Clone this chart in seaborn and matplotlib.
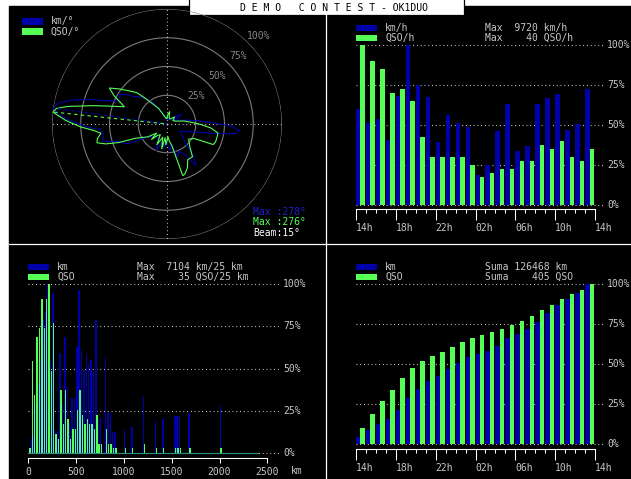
import numpy as np
import pandas as pd
import matplotlib
matplotlib.use("Agg")
import matplotlib.pyplot as plt
import matplotlib.transforms as mtransforms
from matplotlib.patches import Rectangle
import seaborn as sns

W, H = 631, 479
BLUE = "#0000AA"
GREEN = "#55FF55"
TXT = "#C8C8C8"
RING = "#7A7A7A"

#### data ####
hours = ["14h", "15h", "16h", "17h", "18h", "19h", "20h", "21h", "22h", "23h", "00h", "01h",
         "02h", "03h", "04h", "05h", "06h", "07h", "08h", "09h", "10h", "11h", "12h", "13h"]
km_hour = [5820, 4970, 5200, 3940, 6620, 9720, 7280, 6530, 3810, 5430, 4970, 4720,
           1810, 2390, 4480, 6120, 3270, 3560, 6120, 6490, 6740, 4550, 4888, 7040]
qso_hour = [40, 36, 34, 28, 29, 26, 17, 12, 12, 12, 12, 10,
            7, 8, 9, 9, 11, 11, 15, 14, 16, 12, 11, 14]

# distance histogram, 25 km bins (only non empty bins)
dist_from = [0, 25, 50, 75, 100, 125, 150, 175, 200, 225, 250, 275, 300, 325, 350,
             375, 400, 425, 450, 475, 500, 525, 550, 575, 600, 625, 650, 675, 700, 725,
             750, 800, 825, 850, 875, 900, 1000, 1075, 1200, 1325, 1400, 1525, 1550, 1575,
             1675, 2000]
km_dist = [20, 590, 750, 2060, 2910, 3900, 5600, 5980, 7104, 3870, 6710, 995, 925, 4190, 2100,
           4900, 2770, 1280, 2310, 2380, 4475, 6855, 4360, 3480, 4170, 3765, 3910, 3410, 5610, 1490,
           1490, 4030, 1705, 1705, 880, 880, 995, 1115, 2415, 1370, 1420, 1560, 1560, 1560,
           1705, 2025]
qso_dist = [1, 19, 12, 24, 26, 32, 26, 32, 35, 17, 27, 4, 3, 13, 6,
            13, 7, 3, 5, 5, 9, 13, 8, 6, 7, 6, 6, 5, 8, 2,
            2, 5, 2, 2, 1, 1, 1, 1, 2, 1, 1, 1, 1, 1,
            1, 1]

# azimuth diagram, % of max
az_km = [0, 10, 25, 40, 50, 56, 62, 70, 78, 84, 89, 92, 95, 98, 101, 104, 110, 118, 126, 135,
         140, 145, 150, 156, 162, 168, 174, 180, 188, 196, 202, 210, 220, 228, 237, 243, 250,
         255, 260, 265, 268, 272, 275, 278, 281, 284, 287, 290, 294, 298, 302, 306, 311, 316,
         321, 326, 332, 340, 350]
r_km = [4, 5, 4, 6, 10, 15, 7, 10, 16, 27, 42, 56, 63, 60, 43, 30, 20, 13, 16, 22,
        35, 44, 30, 26, 30, 18, 24, 16, 20, 16, 25, 15, 14, 16, 21, 38, 45,
        58, 56, 58, 70, 84, 95, 100, 96, 86, 73, 60, 49, 47, 49, 43, 36, 33,
        27, 23, 15, 8, 5]
az_qso = [0, 5, 12, 18, 30, 47, 60, 72, 80, 85, 90, 95, 100, 105, 110, 114, 118, 125, 135,
          142, 150, 155, 160, 163, 167, 172, 176, 183, 188, 192, 198, 206, 212, 220, 225, 229,
          236, 242, 246, 249, 252, 255, 258, 262, 265, 268, 272, 276, 278, 280, 284, 288, 292,
          295, 298, 302, 306, 311, 316, 320, 326, 332, 338, 345, 352]
r_qso = [5, 8, 11, 6, 5, 9, 6, 8, 15, 20, 28, 38, 45, 45, 45, 44, 27, 23, 28,
         36, 36, 42, 46, 47, 20, 15, 11, 18, 12, 22, 12, 20, 11, 13, 19, 12,
         20, 25, 31, 45, 56, 63, 62, 58, 64, 75, 88, 100, 97, 88, 66, 50, 40,
         45, 52, 59, 52, 44, 38, 29, 20, 15, 9, 6, 5]
beam = 15

sns.set_theme(style="dark")
plt.rcParams["font.family"] = ["DejaVu Sans Mono"]
plt.rcParams["font.size"] = 7

fig = plt.figure(figsize=(W / 100, H / 100), dpi=100, facecolor="white")


def px_box(x0, y0, x1, y1):
    return [x0 / W, 1 - y1 / H, (x1 - x0) / W, (y1 - y0) / H]


# background, frame, title
bg = fig.add_axes([0, 0, 1, 1])
bg.set_xlim(0, W)
bg.set_ylim(H, 0)
bg.set_axis_off()
bg.add_patch(Rectangle((9, 6), W - 9, H - 6, color="black"))
bg.plot([325.5, 325.5], [6, H], color="white", lw=0.9)
bg.plot([9, W], [243.5, 243.5], color="white", lw=0.9)
bg.add_patch(Rectangle((189, -2), 275, 17, facecolor="white", edgecolor="black", lw=0.9))
bg.text(334, 7.5, "D E M O   C O N T E S T - OK1DUO", ha="center", va="center", color="black")


def legend_rows(x, y, labels, right_x=None, right_texts=()):
    for i, (lab, col) in enumerate(zip(labels, [BLUE, GREEN])):
        bg.add_patch(Rectangle((x, y + 10 * i), 21, 6.2, color=col, lw=0))
        bg.text(x + 29, y + 3 + 10 * i, lab, color=TXT, va="center", ha="left")
    for i, t in enumerate(right_texts):
        bg.text(right_x, y + 3 + 10 * i, t, color=TXT, va="center", ha="left")


def pct_grid(ax, xmax, xlab):
    tr = mtransforms.blended_transform_factory(ax.transAxes, ax.transData)
    for v in [0, 25, 50, 75, 100]:
        ax.axhline(v, xmin=0, xmax=xmax, color="#DDDDDD", lw=0.8, ls=(0, (0.8, 2.6)), clip_on=False, zorder=0.5)
        ax.text(xlab, v, f"{v}%", transform=tr, color=TXT, ha="left", va="center")


def style_axis(ax):
    ax.set_facecolor("black")
    ax.grid(False)
    ax.set_xlabel("")
    ax.set_ylabel("")
    ax.set_yticks([])
    for s in ["left", "right", "top"]:
        ax.spines[s].set_visible(False)
    ax.spines["bottom"].set_color("white")
    ax.spines["bottom"].set_linewidth(0.8)
    ax.tick_params(axis="x", which="both", bottom=True, direction="out", color="white",
                   width=0.75, labelcolor=TXT, labelsize=7)


def hour_bars(box, km_pct, qso_pct, bottom):
    ax = fig.add_axes(px_box(*box))
    df = pd.DataFrame({"hour": hours * 2,
                       "pct": list(km_pct) + list(qso_pct),
                       "series": ["km"] * 24 + ["qso"] * 24})
    sns.barplot(data=df, x="hour", y="pct", hue="series", order=hours, hue_order=["km", "qso"],
                palette=[BLUE, GREEN], width=0.9, saturation=1, linewidth=0, errorbar=None,
                legend=False, ax=ax)
    for p in ax.patches:
        p.set_antialiased(False)
    ax.set_xlim(-0.45, 23.55)
    ax.set_ylim(bottom, 100)
    style_axis(ax)
    ax.set_xticks(np.arange(0, 25, 4) - 0.45, hours[::4] + [hours[0]])
    ax.set_xticks(np.arange(25) - 0.45, minor=True)
    ax.tick_params(axis="x", which="major", length=7.7, pad=2.5)
    ax.tick_params(axis="x", which="minor", length=3.2)
    for lbl in ax.get_xticklabels():
        lbl.set_ha("left")
    pct_grid(ax, (603 - 356) / 239, (607 - 356) / 239)
    return ax


# hourly rate
km_h = pd.Series(km_hour)
qso_h = pd.Series(qso_hour)
hour_bars((356, 45, 595, 209.3), km_h / km_h.max() * 100, qso_h / qso_h.max() * 100, -2.9)
legend_rows(356, 25, ["km/h", "QSO/h"], 485,
            [f"Max {km_h.max():5d} km/h", f"Max {qso_h.max():5d} QSO/h"])

# cumulative
hour_bars((356, 284, 595, 449), km_h.cumsum() / km_h.sum() * 100,
          qso_h.cumsum() / qso_h.sum() * 100, -3.1)
legend_rows(356, 264, ["km", "QSO"], 485,
            [f"Suma {km_h.sum():6d} km", f"Suma {qso_h.sum():6d} QSO"])

# distance histogram
hx = fig.add_axes(px_box(28.3, 284, 267.3, 458.3))
d_from = np.array(dist_from)
km_d = np.array(km_dist)
qso_d = np.array(qso_dist)
hx.bar(d_from, km_d / km_d.max() * 100, width=15, align="edge", color=BLUE, lw=0)
hx.bar(d_from + 9, qso_d / qso_d.max() * 100, width=15, align="edge", color=GREEN, lw=0)
hx.axhline(0, xmin=0, xmax=0.96, color="#2E8F80", lw=0.8)
hx.set_xlim(0, 2500)
hx.set_ylim(-2.95, 100)
style_axis(hx)
hx.set_xticks(range(0, 2501, 500))
hx.tick_params(axis="x", which="major", length=3.6, pad=3)
pct_grid(hx, (280 - 28.3) / 239, (283 - 28.3) / 239)
bg.text(297, 471.5, "km", color=TXT, ha="center", va="center")
legend_rows(28, 264, ["km", "QSO"], 137,
            [f"Max {km_d.max():5d} km/25 km", f"Max {qso_d.max():5d} QSO/25 km"])

# azimuth diagram
pax = fig.add_axes(px_box(52, 9, 282, 239), projection="polar")
pax.set_theta_zero_location("N")
pax.set_theta_direction(-1)
pax.set_axis_off()
ring = np.linspace(0, 2 * np.pi, 361)
for r in [25, 50, 75, 100]:
    pax.plot(ring, np.full_like(ring, r), color=RING, lw=0.8)
    pax.text(np.radians(46), r + 10.5, f"{r}%", color="#858585", ha="center", va="center")
for a in [0, 90, 180, 270]:
    pax.plot([np.radians(a)] * 2, [0, 100], color="#DDDDDD", lw=0.8, ls=(0, (0.8, 2.6)))

for az, rr, col in [(az_km, r_km, BLUE), (az_qso, r_qso, GREEN)]:
    th = np.radians(az + az[:1])
    sns.lineplot(x=th, y=rr + rr[:1], sort=False, estimator=None, color=col, lw=0.8, ax=pax)
pax.set_ylim(0, 100)
pax.set_xlabel("")
pax.set_ylabel("")

km_max_az = az_km[int(np.argmax(r_km))]
qso_max_az = az_qso[int(np.argmax(r_qso))]
pax.plot([np.radians(km_max_az)] * 2, [0, 100], color=BLUE, lw=0.8, ls=(0, (3, 3)))
pax.plot([np.radians(qso_max_az)] * 2, [0, 100], color=GREEN, lw=0.8, ls=(3, (3, 3)))

legend_rows(21.7, 18.3, ["km/°", "QSO/°"])
bg.text(253, 212, f"Max :{km_max_az}°", color="#2020CC", va="center", ha="left")
bg.text(253, 222, f"Max :{qso_max_az}°", color=GREEN, va="center", ha="left")
bg.text(253, 233, f"Beam:{beam}°", color="white", va="center", ha="left")

fig.savefig("out.png", dpi=100, facecolor="white")
